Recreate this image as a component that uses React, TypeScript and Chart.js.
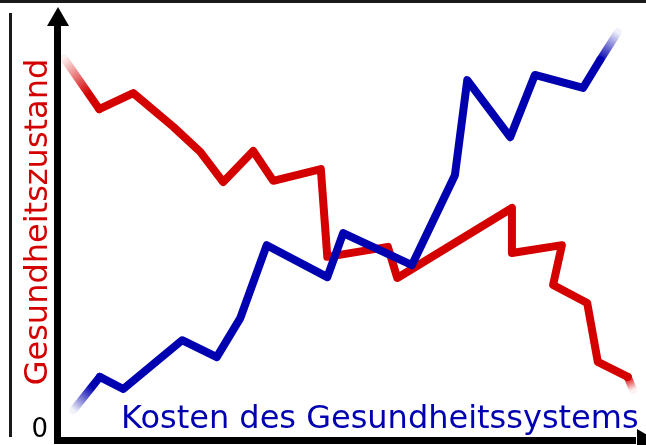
import React, { useEffect, useRef } from "react";
import { Chart, registerables } from "chart.js";

Chart.register(...registerables);

// Health status (red) — x: cost position, y: level (0..100)
const redX = [1, 7, 12.8, 19.6, 24.2, 28.1, 33.2, 36.6, 44.7, 45.8, 56.1, 57.7, 77.2, 77.2, 85.7, 84.2, 90, 91.8, 96.9, 97.8];
const redY = [88.4, 76.6, 80.3, 72.5, 66.7, 59.7, 66.9, 60, 62.7, 42.4, 44.7, 37.5, 53.7, 43.3, 45.1, 35.9, 31.7, 18.1, 14.6, 11.6];

// Health system costs (blue)
const blueX = [2.6, 7.1, 11.1, 21.1, 27.0, 31.0, 35.5, 45.8, 48.5, 60.2, 67.5, 69.6, 76.9, 81.1, 89.3, 92.2, 95.2];
const blueY = [6.9, 14.6, 11.8, 23.1, 19.2, 28.2, 45.1, 37.7, 47.9, 40.5, 61.3, 83.3, 70.1, 84.5, 81.5, 88.0, 94.4];

const yTickLabels = ["0"];
const yTitle = "Gesundheitszustand";
const xTitle = "Kosten des Gesundheitssystems";

const RED = "#d40000";
const BLUE = "#0000b0";
const FONT = "'DejaVu Sans', Verdana, sans-serif";

function fadeSegment(color: string, rgb: string, last: number) {
  return (ctx: any) => {
    const c = ctx.chart && ctx.chart.ctx;
    if (!c) return undefined;
    const { p0, p1, p0DataIndex } = ctx;
    if (p0DataIndex === 0) {
      const g = c.createLinearGradient(p0.x, p0.y, p1.x, p1.y);
      g.addColorStop(0, `rgba(${rgb},0.05)`);
      g.addColorStop(0.7, color);
      g.addColorStop(1, color);
      return g;
    }
    if (p0DataIndex === last - 1) {
      const g = c.createLinearGradient(p0.x, p0.y, p1.x, p1.y);
      g.addColorStop(0, color);
      g.addColorStop(1, `rgba(${rgb},0.05)`);
      return g;
    }
    return undefined;
  };
}

const decorPlugin = {
  id: "decor",
  beforeDraw(chart: any) {
    const { ctx } = chart;
    const W = chart.width;
    ctx.save();
    ctx.fillStyle = "#ffffff";
    ctx.fillRect(0, 0, W, chart.height);
    ctx.fillStyle = "#1a1a1a";
    ctx.fillRect(0, 0, W, 3);
    ctx.fillRect(9, 13, 3, 424);
    ctx.restore();
  },
  afterDraw(chart: any) {
    const { ctx, chartArea } = chart;
    const left = chartArea.left;
    const bottom = chartArea.bottom;
    ctx.save();
    ctx.fillStyle = "#000000";
    ctx.fillRect(left - 4, 24, 7, bottom + 3 - 24);
    ctx.beginPath();
    ctx.moveTo(left - 11, 26);
    ctx.lineTo(left + 11, 26);
    ctx.lineTo(left, 7);
    ctx.closePath();
    ctx.fill();
    ctx.fillRect(left - 4, bottom - 3, 640 - left, 7);
    ctx.beginPath();
    ctx.moveTo(637, bottom - 11);
    ctx.lineTo(637, bottom + 11);
    ctx.lineTo(656, bottom);
    ctx.closePath();
    ctx.fill();

    ctx.fillStyle = RED;
    ctx.font = `32px ${FONT}`;
    ctx.textAlign = "center";
    ctx.textBaseline = "alphabetic";
    ctx.save();
    ctx.translate(47, 222);
    ctx.rotate(-Math.PI / 2);
    ctx.fillText(yTitle, 0, 0);
    ctx.restore();

    ctx.fillStyle = BLUE;
    ctx.font = `32px ${FONT}`;
    ctx.textAlign = "left";
    ctx.fillText(xTitle, 121, 428);

    const y0 = chart.scales.y.getPixelForValue(0);
    ctx.fillStyle = "#000000";
    ctx.font = `26px ${FONT}`;
    ctx.textAlign = "right";
    ctx.fillText(yTickLabels[0], 48, y0 - 3);
    ctx.restore();
  },
};

export default function App() {
  const ref = useRef<HTMLCanvasElement | null>(null);
  useEffect(() => {
    if (!ref.current) return;
    const chart = new Chart(ref.current, {
      type: "line",
      data: {
        datasets: [
          {
            label: xTitle,
            data: blueX.map((x, i) => ({ x, y: blueY[i] })),
            borderColor: BLUE,
            borderWidth: 8,
            borderJoinStyle: "round",
            borderCapStyle: "round",
            pointRadius: 0,
            tension: 0,
            segment: { borderColor: fadeSegment(BLUE, "0,0,176", blueX.length - 1) },
          } as any,
          {
            label: yTitle,
            data: redX.map((x, i) => ({ x, y: redY[i] })),
            borderColor: RED,
            borderWidth: 8,
            borderJoinStyle: "round",
            borderCapStyle: "round",
            pointRadius: 0,
            tension: 0,
            segment: { borderColor: fadeSegment(RED, "212,0,0", redX.length - 1) },
          } as any,
        ],
      },
      options: {
        animation: false,
        responsive: false,
        devicePixelRatio: 1,
        layout: { padding: { left: 58, right: 0, top: 8, bottom: 5 } },
        plugins: { legend: { display: false }, tooltip: { enabled: false } },
        scales: {
          x: { type: "linear", min: 0, max: 100, display: false },
          y: { type: "linear", min: 0, max: 100, display: false },
        },
      },
      plugins: [decorPlugin],
    });
    return () => chart.destroy();
  }, []);
  return (
    <div style={{ position: "absolute", left: 0, top: 0, width: 646, height: 445, background: "#fff" }}>
      <canvas ref={ref} width={646} height={445} style={{ display: "block" }} />
    </div>
  );
}
